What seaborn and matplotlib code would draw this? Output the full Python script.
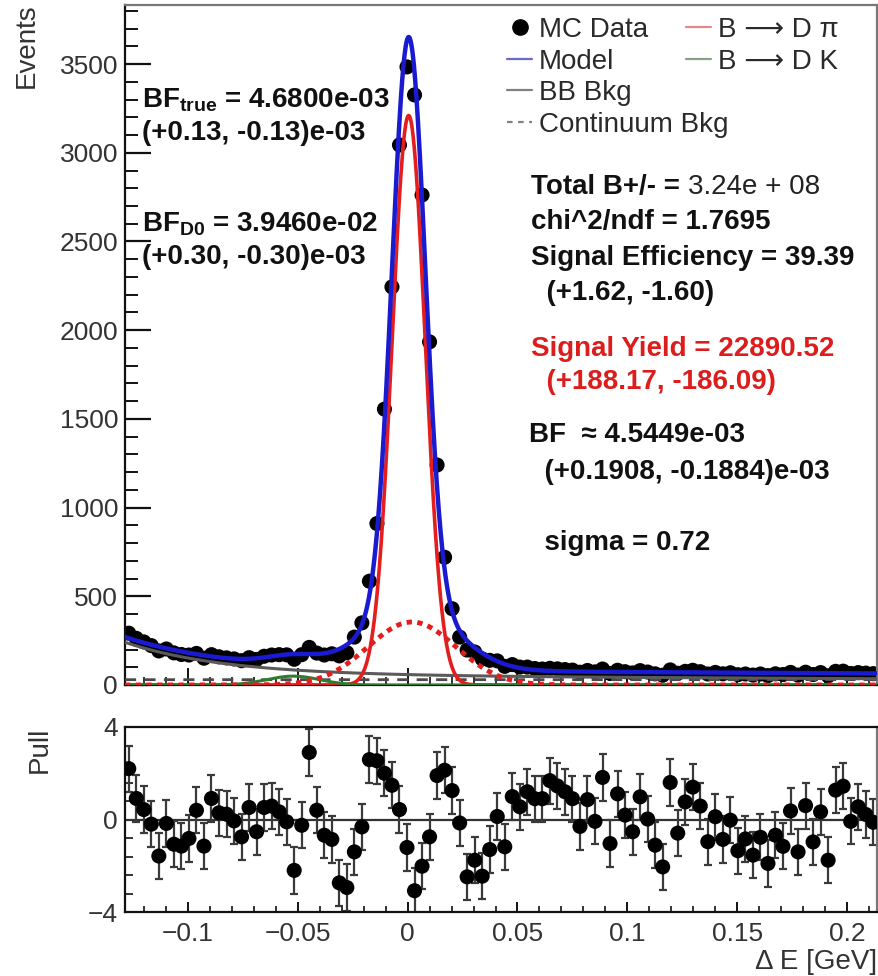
import numpy as np
import pandas as pd
import matplotlib
matplotlib.use("Agg")
import matplotlib.pyplot as plt
import seaborn as sns
from matplotlib.ticker import MultipleLocator, FixedLocator, FixedFormatter
from matplotlib.lines import Line2D

# ---------------- data ----------------
mc_counts = [292, 263, 243, 222, 192, 203, 181, 172, 169, 178,
             151, 171, 159, 153, 147, 137, 154, 144, 162, 169,
             171, 170, 145, 171, 212, 180, 169, 176, 164, 182,
             270, 350, 585, 910, 1555, 2244, 3044, 3484, 3326, 2762,
             1934, 1240, 720, 430, 270, 197, 186, 147, 139, 136,
             105, 115, 101, 101, 93, 90, 94, 91, 87, 84,
             72, 82, 74, 90, 65, 83, 75, 68, 81, 73,
             63, 55, 85, 66, 77, 83, 75, 62, 71, 63,
             69, 58, 62, 56, 62, 53, 63, 59, 71, 56,
             72, 59, 70, 52, 77, 78, 65, 70, 67, 64]

pull_values = [2.2, 0.91, 0.43, -0.2, -1.58, -0.17, -1.07, -1.15, -0.82, 0.4,
               -1.15, 0.91, 0.29, 0.23, -0.06, -0.75, 0.52, -0.53, 0.52, 0.58,
               0.33, -0.1, -2.2, -0.25, 2.9, 0.4, -0.68, -0.86, -2.74, -2.94,
               -1.4, -0.32, 2.59, 2.54, 2.0, 1.48, 0.43, -1.21, -3.08, -2.02,
               -0.75, 1.9, 2.13, 1.25, -0.15, -2.48, -1.76, -2.45, -1.3, 0.13,
               -1.18, 0.99, 0.55, 1.2, 0.9, 0.9, 1.68, 1.45, 1.2, 0.9,
               -0.3, 0.86, -0.08, 1.82, -1.04, 1.11, 0.19, -0.53, 0.98, 0.02,
               -1.11, -2.05, 1.6, -0.59, 0.76, 1.4, 0.58, -0.96, 0.12, -0.86,
               -0.03, -1.35, -0.84, -1.54, -0.77, -1.9, -0.68, -1.16, 0.37, -1.4,
               0.6, -0.97, 0.33, -1.76, 1.27, 1.44, -0.08, 0.55, 0.22, -0.12]
pull_error = 1.0

x_min, x_max = -0.1285, 0.2135      # Delta E range [GeV]
n_bins = 100

# fit-model parameters
sig_amp, sig_mean, sig_sigma = 3210.0, 0.0005, 0.0075      # B -> D pi core
sigw_amp, sigw_mean, sigw_sigma = 355.0, 0.002, 0.020      # B -> D pi wide (dotted)
dk_amp, dk_mean, dk_sigma = 50.0, -0.052, 0.012            # B -> D K
bb_amp, bb_decay, bb_const, bb_lin = 185.0, 0.045, 48.0, -60.0  # BB bkg
cont_level = 30.0                                           # continuum

x_ticks = [-0.1, -0.05, 0.0, 0.05, 0.1, 0.15, 0.2]
x_tick_labels = ["\u22120.1", "\u22120.05", "0", "0.05", "0.1", "0.15", "0.2"]
y_ticks = [0, 500, 1000, 1500, 2000, 2500, 3000, 3500]
pull_ticks = [-4, 0, 4]
pull_tick_labels = ["\u22124", "0", "4"]

legend_col1 = ["MC Data", "Model", "BB Bkg", "Continuum Bkg"]
legend_col2 = ["B \u27f6 D \u03c0", "B \u27f6 D K"]

left_texts = [r"BF$_{\mathbf{true}}$ = 4.6800e-03", "(+0.13, -0.13)e-03",
              r"BF$_{\mathbf{D0}}$ = 3.9460e-02", "(+0.30, -0.30)e-03"]
total_label, total_value = "Total B+/- =", "3.24e + 08"
right_texts = ["chi^2/ndf = 1.7695", "Signal Efficiency = 39.39", "  (+1.62, -1.60)"]
red_texts = ["Signal Yield = 22890.52", "  (+188.17, -186.09)"]
bf_texts = ["BF  \u2248 4.5449e-03", "  (+0.1908, -0.1884)e-03", "  sigma = 0.72"]

# ---------------- style ----------------
sns.set_theme(style="ticks")
plt.rcParams["font.family"] = ["Liberation Sans", "DejaVu Sans"]
plt.rcParams["mathtext.fontset"] = "custom"
plt.rcParams["mathtext.rm"] = "Liberation Sans"
plt.rcParams["mathtext.it"] = "Liberation Sans"
plt.rcParams["mathtext.bf"] = "Liberation Sans:bold"
plt.rcParams["axes.unicode_minus"] = True

W, H = 879, 976
fig = plt.figure(figsize=(W / 100, H / 100), dpi=100)
fx = lambda px: px / W
fy = lambda py: 1 - py / H

ax = fig.add_axes([fx(125), fy(685), fx(877) - fx(125), fy(5) - fy(685)])
axp = fig.add_axes([fx(125), fy(912), fx(877) - fx(125), fy(727) - fy(912)])

edges = np.linspace(x_min, x_max, n_bins + 1)
centers = 0.5 * (edges[:-1] + edges[1:])
df = pd.DataFrame({"x": centers, "counts": mc_counts, "pull": pull_values})

# model curves
xf = np.linspace(x_min, x_max, 2000)
sig_core = sig_amp * np.exp(-0.5 * ((xf - sig_mean) / sig_sigma) ** 2)
sig_wide = sigw_amp * np.exp(-0.5 * ((xf - sigw_mean) / sigw_sigma) ** 2)
dk = dk_amp * np.exp(-0.5 * ((xf - dk_mean) / dk_sigma) ** 2)
bb = bb_amp * np.exp(-(xf - x_min) / bb_decay) + bb_const + bb_lin * xf
cont = np.full_like(xf, cont_level)
model = sig_core + sig_wide + dk + bb + cont
curves = pd.DataFrame({"x": xf, "sig": sig_core, "sigw": sig_wide, "dk": dk,
                       "bb": bb, "cont": cont, "model": model})

blue = "#1a1ad0"
red = "#e41e1e"
green = "#2e7d2e"
grey = "#5a5a5a"
msize = 118

# data points
sns.scatterplot(data=df, x="x", y="counts", ax=ax, color="black", s=msize,
                edgecolor="none", zorder=2, legend=False)
sns.lineplot(data=curves, x="x", y="cont", ax=ax, color="#4a4a4a", lw=2.0,
             zorder=3, legend=False).lines[-1].set_dashes((4, 3))
sns.lineplot(data=curves, x="x", y="bb", ax=ax, color=grey, lw=2.2, zorder=3, legend=False)
sns.lineplot(data=curves, x="x", y="sig", ax=ax, color=red, lw=2.6, zorder=3, legend=False)
sns.lineplot(data=curves, x="x", y="dk", ax=ax, color=green, lw=2.2, zorder=3, legend=False)
l = sns.lineplot(data=curves, x="x", y="sigw", ax=ax, color=red, lw=3.5, zorder=3, legend=False)
l.lines[-1].set_dashes((1.1, 1.1))
sns.lineplot(data=curves, x="x", y="model", ax=ax, color=blue, lw=3.2, zorder=4, legend=False)

ax.set_xlim(x_min, x_max)
ax.set_ylim(0, 3833)
ax.set_xlabel("")
ax.set_ylabel("")
ax.yaxis.set_major_locator(FixedLocator(y_ticks))
ax.yaxis.set_minor_locator(MultipleLocator(100))
ax.xaxis.set_major_locator(FixedLocator(x_ticks))
ax.xaxis.set_minor_locator(MultipleLocator(0.01))
ax.tick_params(axis="y", which="major", direction="in", length=19, width=1.6,
               labelsize=19, pad=5, colors="#111111", labelcolor="#333333")
ax.tick_params(axis="y", which="minor", direction="in", length=9, width=1.4, colors="#111111")
ax.tick_params(axis="x", which="major", direction="in", length=12, width=1.4,
               labelbottom=False, colors="#111111")
ax.tick_params(axis="x", which="minor", direction="in", length=6, width=1.2, colors="#111111")
for s in ["left", "bottom"]:
    ax.spines[s].set_color("#111111")
    ax.spines[s].set_linewidth(1.6)
for s in ["top", "right"]:
    ax.spines[s].set_visible(True)
    ax.spines[s].set_color("#777777")
    ax.spines[s].set_linewidth(1.6)

# legend
h1 = [Line2D([], [], marker="o", color="black", ls="none", ms=11),
      Line2D([], [], color="#6a6ac8", lw=1.6),
      Line2D([], [], color="#808080", lw=1.6),
      Line2D([], [], color="#808080", lw=1.6, dashes=(2.5, 2.5))]
leg1 = ax.legend(h1, legend_col1, loc="upper left", bbox_to_anchor=(fx(507), fy(17)),
                 bbox_transform=fig.transFigure, frameon=False, fontsize=20,
                 handlelength=0.9, handletextpad=0.25, labelspacing=0.2,
                 borderpad=0, borderaxespad=0, labelcolor="#2a2a2a")
ax.add_artist(leg1)
h2 = [Line2D([], [], color="#e08a8a", lw=1.6), Line2D([], [], color="#88a088", lw=1.6)]
ax.legend(h2, legend_col2, loc="upper left", bbox_to_anchor=(fx(686), fy(17)),
          bbox_transform=fig.transFigure, frameon=False, fontsize=20,
          handlelength=0.9, handletextpad=0.25, labelspacing=0.2,
          borderpad=0, borderaxespad=0, labelcolor="#2a2a2a")

# annotations
fs = 20
for t, y in zip(left_texts, [100, 133, 224, 257]):
    fig.text(fx(142), fy(y), t, fontsize=fs, fontweight="bold", va="center", ha="left", color="#111111")
fig.text(fx(531), fy(187), total_label, fontsize=fs, fontweight="bold", va="center", ha="left", color="#111111")
fig.text(fx(688), fy(187), total_value, fontsize=fs, va="center", ha="left", color="#222222")
for t, y in zip(right_texts, [222, 258, 293]):
    fig.text(fx(531), fy(y), t, fontsize=fs, fontweight="bold", va="center", ha="left", color="#111111")
for t, y in zip(red_texts, [349, 382]):
    fig.text(fx(531), fy(y), t, fontsize=fs, fontweight="bold", va="center", ha="left", color="#dd1c1c")
for t, y in zip(bf_texts, [435, 472, 543]):
    fig.text(fx(529), fy(y), t, fontsize=fs, fontweight="bold", va="center", ha="left", color="#111111")

fig.text(fx(27), fy(3), "Events", rotation=90, ha="center", va="top", fontsize=20, color="#333333")

# ---------------- pull panel ----------------
axp.errorbar(df["x"], df["pull"], yerr=pull_error, fmt="none", ecolor="#3a3a3a",
             elinewidth=1.6, capsize=3.2, capthick=1.6, zorder=2)
sns.scatterplot(data=df, x="x", y="pull", ax=axp, color="black", s=msize,
                edgecolor="none", zorder=3, legend=False)
axp.axhline(0, color="#333333", lw=1.6, zorder=1)
axp.set_xlim(x_min, x_max)
axp.set_ylim(-4, 4)
axp.set_xlabel("")
axp.set_ylabel("")
axp.xaxis.set_major_locator(FixedLocator(x_ticks))
axp.xaxis.set_major_formatter(FixedFormatter(x_tick_labels))
axp.xaxis.set_minor_locator(MultipleLocator(0.01))
axp.yaxis.set_major_locator(FixedLocator(pull_ticks))
axp.yaxis.set_major_formatter(FixedFormatter(pull_tick_labels))
axp.yaxis.set_minor_locator(MultipleLocator(0.8))
axp.tick_params(axis="x", which="major", direction="in", length=7, width=1.4,
                labelsize=19, pad=7, colors="#111111", labelcolor="#333333")
axp.tick_params(axis="x", which="minor", direction="in", length=4, width=1.2, colors="#111111")
axp.tick_params(axis="y", which="major", direction="in", length=10, width=1.4,
                labelsize=19, pad=5, colors="#111111", labelcolor="#333333")
axp.tick_params(axis="y", which="minor", direction="in", length=6, width=1.2, colors="#111111")
for s in axp.spines.values():
    s.set_visible(True)
    s.set_color("#111111")
    s.set_linewidth(1.6)
axp.spines["right"].set_color("#777777")

fig.text(fx(40), fy(727), "Pull", rotation=90, ha="center", va="top", fontsize=20, color="#333333")
fig.text(fx(877), fy(962), "\u0394 E [GeV]", ha="right", va="center", fontsize=20, color="#333333")

fig.savefig("out.png", dpi=100)
